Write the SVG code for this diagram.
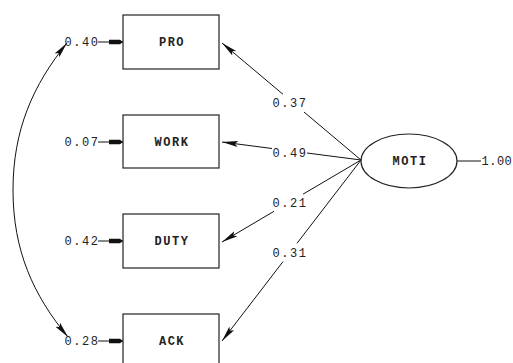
<svg xmlns="http://www.w3.org/2000/svg" width="513" height="363" viewBox="0 0 513 363">
<defs>
<style>
.box{fill:none;stroke:#222;stroke-width:1.2}
.ln{fill:none;stroke:#111;stroke-width:1}
.lbl{font-family:"Liberation Mono","Courier New",monospace;font-size:12px;letter-spacing:1.5px;fill:#222;text-anchor:middle}
.nm{font-weight:bold}
</style>
<marker id="ah" viewBox="0 0 16 8" refX="16" refY="4" markerWidth="16" markerHeight="8" markerUnits="userSpaceOnUse" orient="auto-start-reverse">
<path d="M0,1 L16,4 L0,7 L3,4 Z" fill="#111"/>
</marker>
<marker id="eh" viewBox="0 0 14 6" refX="14" refY="3" markerWidth="14" markerHeight="6" markerUnits="userSpaceOnUse" orient="auto">
<path d="M0,0.8 L11,0.8 L14,3 L11,5.2 L0,5.2 Z" fill="#111"/>
</marker>
</defs>
<rect width="513" height="363" fill="#fff"/>
<g id="connectors">
<path class="ln" d="M98,42 L123,42" marker-end="url(#eh)"/>
<path class="ln" d="M98,142 L123,142" marker-end="url(#eh)"/>
<path class="ln" d="M98,241 L123,241" marker-end="url(#eh)"/>
<path class="ln" d="M98,341 L123,341" marker-end="url(#eh)"/>
<path class="ln" d="M67,43 C33,85 13,130 13,190 C13,250 33,295 68,337" marker-start="url(#ah)" marker-end="url(#ah)"/>
<path class="ln" d="M361,160 L304,112"/>
<path class="ln" d="M283,94.3 L222,43" marker-end="url(#ah)"/>
<path class="ln" d="M361,160 L307,153"/>
<path class="ln" d="M272,148.5 L222,142" marker-end="url(#ah)"/>
<path class="ln" d="M361,160 L303,194.2"/>
<path class="ln" d="M274,211.3 L222,242" marker-end="url(#ah)"/>
<path class="ln" d="M361,160 L297,243.3"/>
<path class="ln" d="M283,261.6 L222,341" marker-end="url(#ah)"/>
<path class="ln" d="M457,161 L481,161"/>
<text class="lbl" x="82" y="46">0.40</text>
<text class="lbl" x="82" y="146">0.07</text>
<text class="lbl" x="82" y="245">0.42</text>
<text class="lbl" x="82" y="345">0.28</text>
<text class="lbl" x="290" y="107">0.37</text>
<text class="lbl" x="290" y="157">0.49</text>
<text class="lbl" x="290" y="207">0.21</text>
<text class="lbl" x="290" y="257">0.31</text>
<text class="lbl" x="481.5" y="165" style="text-anchor:start;letter-spacing:0.5px">1.00</text>
</g>
<g id="PRO"><rect class="box" x="123" y="15" width="96" height="54"/><text class="lbl nm" x="172" y="46">PRO</text></g>
<g id="WORK"><rect class="box" x="123" y="115" width="96" height="53"/><text class="lbl nm" x="172" y="146">WORK</text></g>
<g id="DUTY"><rect class="box" x="123" y="214" width="96" height="54"/><text class="lbl nm" x="172" y="245">DUTY</text></g>
<g id="ACK"><rect class="box" x="123" y="314" width="96" height="54"/><text class="lbl nm" x="172" y="345">ACK</text></g>
<g id="MOTI"><ellipse class="box" cx="409" cy="161" rx="48" ry="27"/><text class="lbl nm" x="410" y="165">MOTI</text></g>
</svg>
